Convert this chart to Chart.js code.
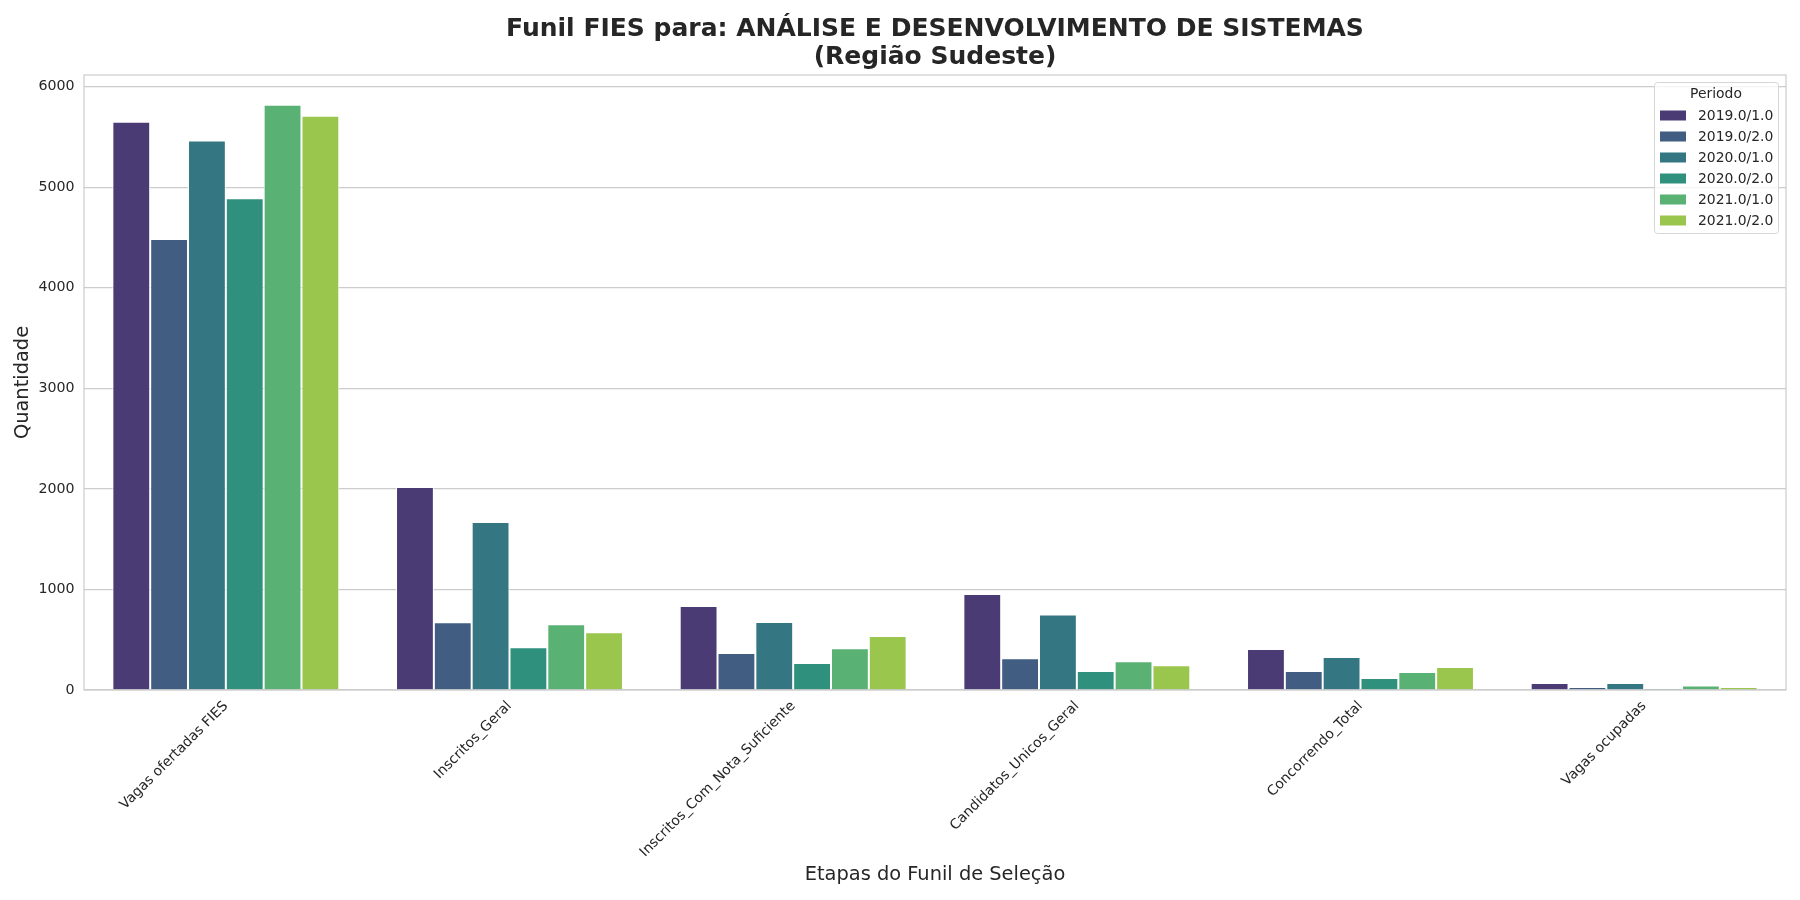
<!DOCTYPE html>
<html>
<head>
<meta charset="utf-8">
<script src="https://cdn.jsdelivr.net/npm/chart.js@4/dist/chart.umd.min.js"></script>
<style>
  html, body { margin: 0; padding: 0; background: #ffffff; }
  #wrap { width: 1800px; height: 900px; }
</style>
</head>
<body>
<div id="wrap"><canvas id="chartCanvas" width="1800" height="900"></canvas></div>
<script>
// Funnel stages (x categories) and the periods (one dataset each)
const stages = [
  'Vagas ofertadas FIES',
  'Inscritos_Geral',
  'Inscritos_Com_Nota_Suficiente',
  'Candidatos_Unicos_Geral',
  'Concorrendo_Total',
  'Vagas ocupadas'
];
const periods = ['2019.0/1.0', '2019.0/2.0', '2020.0/1.0', '2020.0/2.0', '2021.0/1.0', '2021.0/2.0'];

// Values per period
const p2019_1 = [5650, 2018, 835, 955, 408, 70];
const p2019_2 = [4485, 674, 368, 315, 189, 30];
const p2020_1 = [5465, 1670, 675, 752, 328, 70];
const p2020_2 = [4890, 425, 268, 190, 119, 12];
const p2021_1 = [5820, 655, 414, 285, 179, 45];
const p2021_2 = [5710, 575, 537, 245, 229, 30];
const seriesValues = [p2019_1, p2019_2, p2020_1, p2020_2, p2021_1, p2021_2];

// y ticks every 1000, axis top as in the picture
const yTicks = [0, 1000, 2000, 3000, 4000, 5000, 6000];
const yMax = 6116;

// seaborn viridis (desaturated) palette
const palette = ['#4a3b74', '#415d82', '#347682', '#2f917d', '#59b273', '#9ac64d'];

const textColor = '#262626';
const gridColor = '#cccccc';
Chart.defaults.font.family = '"DejaVu Sans", sans-serif';
Chart.defaults.color = textColor;

// Light grey frame round the plot area (all four spines)
const framePlugin = {
  id: 'frame',
  afterDatasetsDraw(chart) {
    const a = chart.chartArea;
    const ctx = chart.ctx;
    ctx.save();
    ctx.strokeStyle = gridColor;
    ctx.lineWidth = 1.2;
    ctx.strokeRect(a.left, a.top, a.right - a.left, a.bottom - a.top);
    ctx.restore();
  }
};

// Legend box in the upper right of the plot, like matplotlib's
const boxLegend = {
  id: 'boxLegend',
  afterDraw(chart) {
    const ctx = chart.ctx;
    const a = chart.chartArea;
    const sets = chart.data.datasets;
    const w = 124, rowH = 21;
    const h = 151;
    const x = a.right - 8 - w;
    const y = a.top + 7;
    ctx.save();
    ctx.fillStyle = 'rgba(255,255,255,0.8)';
    ctx.strokeStyle = '#d6d6d6';
    ctx.lineWidth = 1;
    ctx.beginPath();
    ctx.roundRect(x + 0.5, y + 0.5, w, h, 3);
    ctx.fill();
    ctx.stroke();
    ctx.font = '13.9px "DejaVu Sans"';
    ctx.fillStyle = textColor;
    ctx.textAlign = 'center';
    ctx.textBaseline = 'middle';
    ctx.fillText('Periodo', x + w / 2, y + 12.5);
    ctx.textAlign = 'left';
    sets.forEach((ds, i) => {
      const cy = y + 33.5 + i * rowH;
      ctx.fillStyle = ds.backgroundColor;
      ctx.fillRect(x + 6, cy - 5, 26, 10);
      ctx.fillStyle = textColor;
      ctx.fillText(ds.label, x + 44, cy + 0.5);
    });
    ctx.restore();
  }
};

const datasets = periods.map((p, i) => ({
  label: p,
  data: seriesValues[i],
  backgroundColor: palette[i],
  borderColor: '#ffffff',
  borderWidth: 1,
  categoryPercentage: 0.8,
  barPercentage: 1.0
}));

new Chart(document.getElementById('chartCanvas').getContext('2d'), {
  type: 'bar',
  data: { labels: stages, datasets: datasets },
  plugins: [framePlugin, boxLegend],
  options: {
    responsive: false,
    animation: false,
    devicePixelRatio: 1,
    layout: { padding: { left: 0, right: 14, top: 0, bottom: 0 } },
    plugins: {
      legend: { display: false },
      tooltip: { enabled: false },
      title: {
        display: true,
        fullSize: false,
        text: ['Funil FIES para: ANÁLISE E DESENVOLVIMENTO DE SISTEMAS', '(Região Sudeste)'],
        color: textColor,
        font: { size: 25, weight: 'bold', lineHeight: 1.1 },
        padding: { top: 16, bottom: 4 }
      }
    },
    scales: {
      x: {
        grid: { display: false, drawTicks: false },
        border: { display: false },
        ticks: {
          color: textColor,
          font: { size: 13.9 },
          minRotation: 45,
          maxRotation: 45,
          padding: 8
        },
        title: {
          display: true,
          text: 'Etapas do Funil de Seleção',
          color: textColor,
          font: { size: 19.4, lineHeight: 1.2 },
          padding: { top: 0, bottom: 13.5 }
        },
        afterFit(scale) { scale.height = 210; }
      },
      y: {
        min: 0,
        max: yMax,
        grid: { color: gridColor, lineWidth: 1.2, drawTicks: false },
        border: { display: false },
        ticks: {
          color: textColor,
          font: { size: 14.2 },
          padding: 9.4,
          stepSize: 1000,
          callback: (v) => String(v)
        },
        afterBuildTicks(scale) {
          scale.ticks = yTicks.map(v => ({ value: v }));
        },
        title: {
          display: true,
          text: 'Quantidade',
          color: textColor,
          font: { size: 19.4, lineHeight: 1.2 },
          padding: { top: 11.4, bottom: 0 }
        },
        afterFit(scale) { scale.width = 84; }
      }
    }
  }
});
</script>
</body>
</html>
